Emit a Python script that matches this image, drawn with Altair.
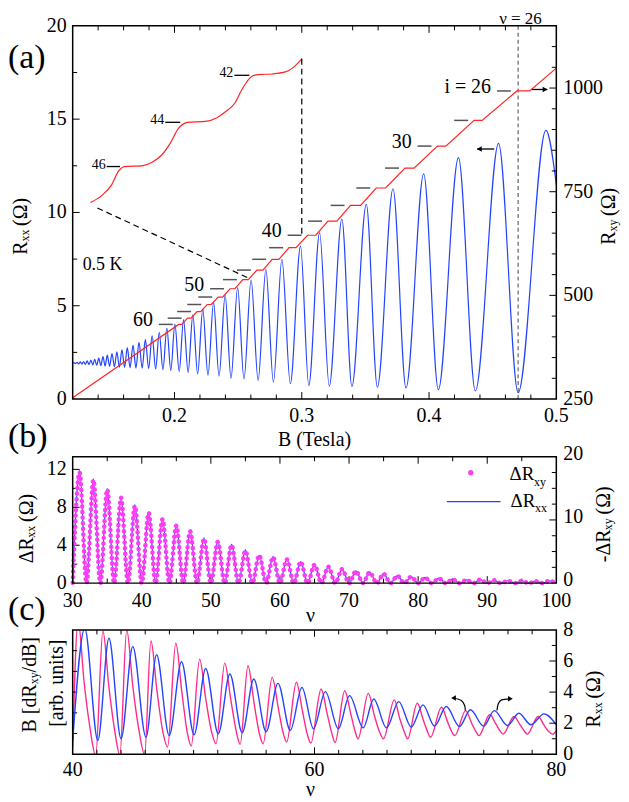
import altair as alt
import pandas as pd

FONT = "Liberation Serif"
BLUE = "#2443ff"
RED = "#ff2424"
MAG = "#ff3cf5"
PINK = "#ff2b88"
GRAY = "#555555"

# ---------------- Panel (a) data ----------------
a_rxx_B = [0.1200, 0.1210, 0.1222, 0.1234, 0.1247, 0.1260, 0.1273, 0.1286, 0.1300, 0.1314,
           0.1328, 0.1343, 0.1358, 0.1373, 0.1389, 0.1405, 0.1421, 0.1438, 0.1455, 0.1472,
           0.1490, 0.1509, 0.1528, 0.1547, 0.1567, 0.1587, 0.1608, 0.1629, 0.1651, 0.1674,
           0.1697, 0.1721, 0.1746, 0.1771, 0.1797, 0.1824, 0.1852, 0.1880, 0.1909, 0.1940,
           0.1971, 0.2003, 0.2037, 0.2071, 0.2107, 0.2144, 0.2182, 0.2222, 0.2263, 0.2307,
           0.2350, 0.2398, 0.2444, 0.2496, 0.2546, 0.2602, 0.2657, 0.2718, 0.2777, 0.2844,
           0.2910, 0.2990, 0.3055, 0.3140, 0.3216, 0.3315, 0.3394, 0.3507, 0.3594, 0.3717,
           0.3819, 0.3958, 0.4073, 0.4231, 0.4364, 0.4546, 0.4700, 0.4918, 0.5000]
a_rxx_R = [1.92, 1.95, 1.89, 1.97, 1.88, 1.99, 1.87, 2.01, 1.86, 2.04,
           1.85, 2.08, 1.83, 2.13, 1.81, 2.19, 1.79, 2.27, 1.77, 2.35,
           1.75, 2.44, 1.73, 2.53, 1.71, 2.63, 1.70, 2.75, 1.68, 2.89,
           1.66, 3.04, 1.65, 3.20, 1.63, 3.38, 1.61, 3.58, 1.58, 3.79,
           1.53, 4.02, 1.48, 4.26, 1.42, 4.50, 1.35, 4.82, 1.28, 5.18,
           1.23, 5.57, 1.12, 5.97, 1.08, 6.38, 1.00, 6.95, 0.91, 7.48,
           0.82, 8.19, 0.73, 8.90, 0.70, 9.65, 0.68, 10.44, 0.64, 11.27,
           0.59, 12.07, 0.50, 12.94, 0.43, 13.70, 0.34, 14.40, 11.50]

a_rxy_B = [0.1200, 0.2033, 0.2057, 0.2103, 0.2129, 0.2177, 0.2206, 0.2257, 0.2289,
           0.2343, 0.2378, 0.2436, 0.2475, 0.2537, 0.2580, 0.2647, 0.2695, 0.2767, 0.2820,
           0.2900, 0.2955, 0.3045, 0.3110, 0.3206, 0.3276, 0.3383, 0.3462, 0.3585, 0.3659,
           0.3811, 0.3882, 0.4066, 0.4132, 0.4354, 0.4417, 0.4690, 0.4790, 0.5000]
a_rxy_R = [253, 430, 430, 445, 445, 461, 461, 478, 478,
           496, 496, 516, 516, 538, 538, 561, 561, 587, 587,
           615, 615, 645, 645, 679, 679, 717, 717, 759, 759,
           807, 807, 860, 860, 922, 922, 993, 993, 1048]

a_plat_B = [0.4690, 0.4354, 0.4066, 0.3811, 0.3585, 0.3383, 0.3206, 0.3045, 0.2900,
            0.2767, 0.2647, 0.2537, 0.2436, 0.2343, 0.2257, 0.2177, 0.2103, 0.2033]
a_plat_R = [993, 922, 860, 807, 759, 717, 679, 645, 615, 587, 561, 538, 516, 496, 478, 461, 445, 430]
a_lab_txt = ["i = 26", "30", "40", "50", "60"]
a_lab_B = [0.4690, 0.4066, 0.3045, 0.2436, 0.2033]
a_lab_R = [993, 860, 645, 516, 430]

inset_B = [0.1341, 0.1428, 0.1506, 0.1559, 0.1606, 0.1743, 0.1821, 0.1900, 0.1966, 0.2031, 0.2105,
           0.2242, 0.2333, 0.2400, 0.2472, 0.2530, 0.2609, 0.2661, 0.2766, 0.2872, 0.2937, 0.3002]
inset_R = [10.54, 10.90, 11.48, 12.20, 12.46, 12.50, 12.68, 13.08, 13.70, 14.50, 14.83,
           14.88, 15.08, 15.40, 15.84, 16.59, 17.30, 17.39, 17.42, 17.53, 17.79, 18.24]
inset_dash_B1 = [0.1467, 0.1927, 0.2470]
inset_dash_B2 = [0.1572, 0.2045, 0.2588]
inset_dash_R = [12.46, 14.83, 17.35]
inset_lab = ["46", "44", "42"]

guide_x1 = [0.3000, 0.1394]
guide_y1 = [18.24, 10.24]
guide_x2 = [0.3000, 0.2575]
guide_y2 = [8.70, 6.50]

arrow_a_x1 = [0.4378, 0.4803]
arrow_a_x2 = [0.4512, 0.4929]
arrow_a_y = [13.40, 16.59]
arrow_a_head_x = [0.4395, 0.4912]
arrow_a_head_shape = ["triangle-left", "triangle-right"]

a_xlab_v = [0.2, 0.3, 0.4, 0.5]
a_xlab_t = ["0.2", "0.3", "0.4", "0.5"]
a_ylab_v = [0, 5, 10, 15, 20]
a_ylab_t = ["0", "5", "10", "15", "20"]
a_rlab_v = [250, 500, 750, 1000]
a_rlab_t = ["250", "500", "750", "1000"]

# ---------------- Panel (b) data ----------------
b_nu = [30, 31, 32, 33, 34, 35, 36, 37, 38, 39, 40, 41, 42, 43, 44, 45, 46, 47, 48, 49,
        50, 51, 52, 53, 54, 55, 56, 57, 58, 59, 60, 61, 62, 63, 64, 65, 66, 67, 68, 69,
        70, 71, 72, 73, 74, 75, 76, 77, 78, 79, 80, 81, 82, 83, 84, 85, 86, 87, 88, 89,
        90, 91, 92, 93, 94, 95, 96, 97, 98, 99, 100]
b_drxx = [0.05, 11.9, 0, 11.0, 0, 9.97, 0, 9.1, 0, 8.29, 0, 7.52, 0, 6.82, 0, 6.12, 0, 5.49, 0, 4.79,
          0, 4.44, 0, 4.09, 0, 3.5, 0, 2.97, 0, 2.8, 0, 2.55, 0, 2.27, 0, 1.98, 0, 1.75, 0, 1.5,
          0, 1.3, 0, 1.16, 0, 1.0, 0, 0.8, 0, 0.7, 0, 0.6, 0, 0.53, 0, 0.42, 0, 0.35, 0, 0.38,
          0, 0.3, 0, 0.25, 0, 0.25, 0, 0.22, 0, 0.25, 0]
b_drxy = [0.05, 17.5, 0, 16.3, 0, 14.8, 0, 13.5, 0, 12.2, 0, 11.1, 0, 10.1, 0, 9.1, 0, 8.2, 0, 7.0,
          0, 6.5, 0, 6.0, 0, 5.1, 0, 4.4, 0, 4.1, 0, 3.75, 0, 3.35, 0, 2.9, 0, 2.6, 0, 2.2,
          0, 1.9, 0, 1.7, 0, 1.45, 0, 1.15, 0, 1.0, 0, 0.85, 0, 0.75, 0, 0.6, 0, 0.5, 0, 0.55,
          0, 0.45, 0, 0.35, 0, 0.35, 0, 0.3, 0, 0.35, 0]
b_xlab_v = [30, 40, 50, 60, 70, 80, 90, 100]
b_xlab_t = ["30", "40", "50", "60", "70", "80", "90", "100"]
b_ylab_v = [0, 4, 8, 12]
b_ylab_t = ["0", "4", "8", "12"]
b_rlab_v = [0, 10, 20]
b_rlab_t = ["0", "10", "20"]

# ---------------- Panel (c) data ----------------
c_rxx_nu = [40.0, 41.0, 42.08, 43.0, 44.0, 44.97, 46.06, 46.94, 47.98, 49.0, 50.04, 51.0, 52.04,
            53.0, 54.02, 54.98, 56.0, 56.98, 58.0, 58.96, 59.92, 60.9, 61.97, 62.9, 64.03, 64.9,
            65.95, 66.97, 68.0, 68.97, 69.93, 70.9, 71.99, 72.9, 73.99, 74.87, 75.97, 76.9, 77.9,
            78.98, 80.0]
c_rxx_v = [0.85, 8.1, 0.9, 7.46, 1.0, 6.93, 1.1, 6.4, 1.2, 5.95, 1.26, 5.52, 1.32, 5.16, 1.39,
           4.84, 1.45, 4.56, 1.54, 4.3, 1.64, 4.03, 1.64, 3.77, 1.7, 3.56, 1.7, 3.39, 1.75, 3.18,
           1.81, 3.07, 1.79, 2.86, 1.81, 2.81, 1.85, 2.64, 1.9, 2.6, 1.9]
c_der_nu = [40.0,
            40.45, 40.95, 41.45, 41.9, 42.5, 43.0, 43.5, 43.9, 44.47, 44.97, 45.47, 45.95,
            46.47, 46.97, 47.47, 47.85, 48.53, 49.03, 49.5, 49.8, 50.5, 51.0, 51.5, 51.85,
            52.58, 53.08, 53.55, 53.85, 54.5, 55.0, 55.45, 55.75, 56.5, 57.0, 57.4, 57.7,
            58.5, 59.0, 59.4, 59.7, 60.55, 61.05, 61.45, 61.7, 62.5, 63.0, 63.35, 63.6,
            64.45, 64.95, 65.35, 65.7, 66.6, 67.05, 67.45, 67.7, 68.5, 69.0, 69.35, 69.6,
            70.5, 71.0, 71.35, 71.6, 72.5, 73.0, 73.35, 73.6, 74.5, 75.0, 75.35, 75.6,
            76.5, 77.0, 77.35, 77.6, 78.5, 79.0, 79.4, 79.7,
            80.0]
c_der_v = [0.5,
           8.6, 4.6, 1.6, -0.1, 7.93, 4.3, 1.4, -0.05, 8.0, 4.4, 1.6, 0.0,
           7.3, 4.1, 1.4, 0.47, 7.14, 4.0, 1.3, 0.53, 6.12, 3.6, 1.4, 0.68,
           5.86, 3.5, 1.4, 0.64, 5.69, 3.3, 1.3, 0.68, 4.95, 3.0, 1.4, 0.79,
           4.63, 2.8, 1.3, 0.72, 4.2, 2.6, 1.3, 0.75, 4.09, 2.6, 1.5, 1.0,
           3.92, 2.5, 1.5, 1.0, 3.5, 2.3, 1.4, 1.0, 3.28, 2.2, 1.45, 1.1,
           3.03, 2.1, 1.45, 1.2, 2.81, 2.0, 1.45, 1.2, 2.56, 1.95, 1.5, 1.3,
           2.43, 1.9, 1.5, 1.3, 2.43, 1.85, 1.45, 1.3,
           1.5]
arrow_c1_nu = [72.47, 72.42, 72.14, 71.50]
arrow_c1_v = [2.82, 3.14, 3.46, 3.62]
arrow_c2_nu = [75.09, 75.20, 75.47, 76.20]
arrow_c2_v = [2.82, 3.25, 3.50, 3.57]
c_xlab_v = [40, 60, 80]
c_xlab_t = ["40", "60", "80"]
c_rlab_v = [0, 2, 4, 6, 8]
c_rlab_t = ["0", "2", "4", "6", "8"]

# ---------------- helpers ----------------
DUMMY = pd.DataFrame({"d": [0]})


def txt(s, x, y, size=20, angle=0, align="left", baseline="alphabetic", color="black"):
    return alt.Chart(DUMMY).mark_text(
        text=s, font=FONT, fontSize=size, angle=angle, align=align,
        baseline=baseline, color=color
    ).encode(x=alt.value(x), y=alt.value(y))


def frame(W, H):
    return alt.Chart(DUMMY).mark_rect(fillOpacity=0, stroke="black", strokeWidth=1.5).encode(
        x=alt.value(0), x2=alt.value(W), y=alt.value(0), y2=alt.value(H))


def xticks(vals, scale, H, L):
    base = alt.Chart(pd.DataFrame({"v": vals})).mark_rule(color="black", strokeWidth=1)
    return [
        base.encode(x=alt.X("v:Q", scale=scale, axis=None), y=alt.value(H), y2=alt.value(H - L)),
        base.encode(x=alt.X("v:Q", scale=scale, axis=None), y=alt.value(0), y2=alt.value(L)),
    ]


def yticks(vals, scale, W, L, side):
    base = alt.Chart(pd.DataFrame({"v": vals})).mark_rule(color="black", strokeWidth=1)
    if side == "left":
        return [base.encode(y=alt.Y("v:Q", scale=scale, axis=None), x=alt.value(0), x2=alt.value(L))]
    return [base.encode(y=alt.Y("v:Q", scale=scale, axis=None), x=alt.value(W), x2=alt.value(W - L))]


def xlabels(vals, labels, scale, y):
    return alt.Chart(pd.DataFrame({"v": vals, "t": labels})).mark_text(
        font=FONT, fontSize=20, align="center", baseline="alphabetic", color="black").encode(
        x=alt.X("v:Q", scale=scale, axis=None), y=alt.value(y), text="t:N")


def ylabels(vals, labels, scale, x, align, dy=0):
    return alt.Chart(pd.DataFrame({"v": vals, "t": labels})).mark_text(
        font=FONT, fontSize=20, align=align, baseline="middle", color="black", dy=dy).encode(
        y=alt.Y("v:Q", scale=scale, axis=None), x=alt.value(x), text="t:N")


MAJ, MIN = 7, 4.5
W = 486

# ================= Panel (a) =================
HA = 375
xs_a = alt.Scale(domain=[0.12, 0.5], nice=False, zero=False)
yl_a = alt.Scale(domain=[0, 20], range=[HA, 0], nice=False, zero=False)
yr_a = alt.Scale(domain=[250, 1150], range=[HA, 0], nice=False, zero=False)

a_blue = alt.Chart(pd.DataFrame({"B": a_rxx_B, "R": a_rxx_R})).mark_line(
    color=BLUE, strokeWidth=1.2, interpolate="monotone").encode(
    x=alt.X("B:Q", scale=xs_a, axis=None), y=alt.Y("R:Q", scale=yl_a, axis=None))

a_inset = alt.Chart(pd.DataFrame({"B": inset_B, "R": inset_R})).mark_line(
    color=RED, strokeWidth=1.2, interpolate="monotone").encode(
    x=alt.X("B:Q", scale=xs_a, axis=None), y=alt.Y("R:Q", scale=yl_a, axis=None))

inset_df = pd.DataFrame({"b1": inset_dash_B1, "b2": inset_dash_B2, "r": inset_dash_R, "t": inset_lab})
a_inset_dash = alt.Chart(inset_df).mark_rule(color="black", strokeWidth=1.3).encode(
    x=alt.X("b1:Q", scale=xs_a, axis=None), x2="b2:Q", y=alt.Y("r:Q", scale=yl_a, axis=None))
a_inset_lab = alt.Chart(inset_df).mark_text(
    font=FONT, fontSize=14, align="right", baseline="alphabetic", dx=-1, dy=2, color="black").encode(
    x=alt.X("b1:Q", scale=xs_a, axis=None), y=alt.Y("r:Q", scale=yl_a, axis=None), text="t:N")

a_guides = alt.Chart(pd.DataFrame({"x1": guide_x1, "y1": guide_y1, "x2": guide_x2, "y2": guide_y2})).mark_rule(
    color="black", strokeWidth=1.2, strokeDash=[6, 4]).encode(
    x=alt.X("x1:Q", scale=xs_a, axis=None), x2="x2:Q",
    y=alt.Y("y1:Q", scale=yl_a, axis=None), y2="y2:Q")

a_nu26 = alt.Chart(pd.DataFrame({"B": [0.47]})).mark_rule(
    color="#666666", strokeWidth=1.2, strokeDash=[4, 3]).encode(
    x=alt.X("B:Q", scale=xs_a, axis=None), y=alt.value(0), y2=alt.value(HA))

arr_df = pd.DataFrame({"x1": arrow_a_x1, "x2": arrow_a_x2, "y": arrow_a_y,
                       "hx": arrow_a_head_x, "s": arrow_a_head_shape})
a_arrow_line = alt.Chart(arr_df).mark_rule(color="black", strokeWidth=1.3).encode(
    x=alt.X("x1:Q", scale=xs_a, axis=None), x2="x2:Q", y=alt.Y("y:Q", scale=yl_a, axis=None))
a_arrow_head = alt.Chart(arr_df).mark_point(filled=True, size=32, color="black", opacity=1).encode(
    x=alt.X("hx:Q", scale=xs_a, axis=None), y=alt.Y("y:Q", scale=yl_a, axis=None),
    shape=alt.Shape("s:N", scale=None))

a_left = alt.layer(
    a_blue, a_inset, a_inset_dash, a_inset_lab, a_guides, a_nu26, a_arrow_line, a_arrow_head,
    *xticks([0.2, 0.3, 0.4], xs_a, HA, MAJ),
    *xticks([0.14, 0.16, 0.18, 0.22, 0.24, 0.26, 0.28, 0.32, 0.34, 0.36, 0.38,
             0.42, 0.44, 0.46, 0.48], xs_a, HA, MIN),
    *yticks([5, 10, 15], yl_a, W, MAJ, "left"),
    *yticks([2.5, 7.5, 12.5, 17.5], yl_a, W, MIN, "left"),
    xlabels(a_xlab_v, a_xlab_t, xs_a, HA + 23),
    ylabels(a_ylab_v, a_ylab_t, yl_a, -6, "right"),
    txt("(a)", -65, 42.5, 34),
    txt("R", -46, 230, 20, 270), txt("xx", -44, 216.7, 12, 270), txt("(Ω)", -46, 201, 20, 270),
    txt("R", 545, 220, 20, 270), txt("xy", 547, 206.7, 12, 270), txt("(Ω)", 545, 191, 20, 270),
    txt("B (Tesla)", 243, 422, 20, align="center"),
    txt("0.5 K", 10, 245, 18),
    txt("ν = 26", 450, -2, 17, align="center"),
)

a_red = alt.Chart(pd.DataFrame({"B": a_rxy_B, "R": a_rxy_R})).mark_line(
    color=RED, strokeWidth=1.2).encode(
    x=alt.X("B:Q", scale=xs_a, axis=None), y=alt.Y("R:Q", scale=yr_a, axis=None))
a_dash = alt.Chart(pd.DataFrame({"B": a_plat_B, "R": a_plat_R})).mark_rule(
    color=GRAY, strokeWidth=1.5, xOffset=-20, x2Offset=-6).encode(
    x=alt.X("B:Q", scale=xs_a, axis=None), x2="B:Q", y=alt.Y("R:Q", scale=yr_a, axis=None))
a_lab = alt.Chart(pd.DataFrame({"B": a_lab_B, "R": a_lab_R, "t": a_lab_txt})).mark_text(
    font=FONT, fontSize=20, align="right", baseline="alphabetic", dx=-26, dy=2, color="black").encode(
    x=alt.X("B:Q", scale=xs_a, axis=None), y=alt.Y("R:Q", scale=yr_a, axis=None), text="t:N")

a_right = alt.layer(
    a_red, a_dash, a_lab,
    *yticks([500, 750, 1000], yr_a, W, MAJ, "right"),
    *yticks([300, 350, 400, 450, 550, 600, 650, 700, 800, 850, 900, 950, 1050, 1100], yr_a, W, MIN, "right"),
    ylabels(a_rlab_v, a_rlab_t, yr_a, W + 7, "left"),
    frame(W, HA),
)

panel_a = alt.layer(a_left, a_right).resolve_scale(y="independent").properties(width=W, height=386)

# ================= Panel (b) =================
HB = 127
xs_b = alt.Scale(domain=[30, 100], nice=False, zero=False)
yl_b = alt.Scale(domain=[0, 13.333], nice=False, zero=False)
yr_b = alt.Scale(domain=[0, 20], nice=False, zero=False)

b_df = pd.DataFrame({"nu": b_nu, "xx": b_drxx, "xy": b_drxy})
b_blue = alt.Chart(b_df).mark_line(color=BLUE, strokeWidth=1.2, interpolate="monotone").encode(
    x=alt.X("nu:Q", scale=xs_b, axis=None), y=alt.Y("xx:Q", scale=yl_b, axis=None))

b_left = alt.layer(
    b_blue,
    *xticks([40, 50, 60, 70, 80, 90], xs_b, HB, MAJ),
    *xticks([35, 45, 55, 65, 75, 85, 95], xs_b, HB, MIN),
    *yticks([4, 8, 12], yl_b, W, MAJ, "left"),
    *yticks([2, 6, 10], yl_b, W, MIN, "left"),
    xlabels(b_xlab_v, b_xlab_t, xs_b, HB + 24),
    ylabels(b_ylab_v, b_ylab_t, yl_b, -6, "right"),
    txt("(b)", -65, -9.5, 34),
    txt("ΔR", -40, 107, 20, 270), txt("xx", -38, 81.4, 12, 270), txt("(Ω)", -40, 65.5, 20, 270),
    txt("-ΔR", 540, 106, 20, 270), txt("xy", 542, 73.8, 12, 270), txt("(Ω)", 540, 58, 20, 270),
    txt("ν", 239, 166, 20, align="center"),
    alt.Chart(DUMMY).mark_point(filled=True, size=28, color=MAG, opacity=1).encode(
        x=alt.value(400), y=alt.value(16)),
    alt.Chart(DUMMY).mark_rule(color=BLUE, strokeWidth=1.3).encode(
        x=alt.value(376), x2=alt.value(430), y=alt.value(45)),
    txt("ΔR", 439, 23, 19), txt("xy", 463.5, 29, 12),
    txt("ΔR", 440, 50, 19), txt("xx", 464.5, 56, 12),
)

b_mag = alt.Chart(b_df).mark_line(
    color=MAG, strokeWidth=4.5, strokeDash=[0.1, 5.5], strokeCap="round", interpolate="monotone").encode(
    x=alt.X("nu:Q", scale=xs_b, axis=None), y=alt.Y("xy:Q", scale=yr_b, axis=None))

b_right = alt.layer(
    b_mag,
    *yticks([10], yr_b, W, MAJ, "right"),
    *yticks([2.5, 5, 7.5, 12.5, 15, 17.5], yr_b, W, MIN, "right"),
    ylabels(b_rlab_v, b_rlab_t, yr_b, W + 7, "left", dy=-3),
    frame(W, HB),
)

panel_b = alt.layer(b_left, b_right).resolve_scale(y="independent").properties(width=W, height=HB)

# ================= Panel (c) =================
HC = 125
xs_c = alt.Scale(domain=[40, 80], nice=False, zero=False)
yl_c = alt.Scale(domain=[0, 8], nice=False, zero=False)
yr_c = alt.Scale(domain=[0, 8], nice=False, zero=False)

c_pink = alt.Chart(pd.DataFrame({"nu": c_der_nu, "v": c_der_v})).mark_line(
    color=PINK, strokeWidth=1.4, interpolate="monotone", clip=True).encode(
    x=alt.X("nu:Q", scale=xs_c, axis=None), y=alt.Y("v:Q", scale=yl_c, axis=None))

c_left = alt.layer(
    c_pink,
    *xticks([60], xs_c, HC, MAJ),
    *xticks([42, 44, 46, 48, 50, 52, 54, 56, 58, 62, 64, 66, 68, 70, 72, 74, 76, 78], xs_c, HC, MIN),
    *yticks([1.3333, 2.6667, 4, 5.3333, 6.6667], yl_c, W, MIN, "left"),
    xlabels(c_xlab_v, c_xlab_t, xs_c, HC + 22),
    txt("(c)", -65, -9.5, 34),
    txt("B [dR", -37, 103, 20, 270), txt("xy", -35, 54.7, 12, 270), txt("/dB]", -37, 42.7, 20, 270),
    txt("[arb. units]", -10, 53.5, 20, 270, align="center"),
    txt("R", 530, 98, 20, 270), txt("xx", 532, 84.7, 12, 270), txt("(Ω)", 530, 69, 20, 270),
    txt("ν", 239, 167, 20, align="center"),
)

c_blue = alt.Chart(pd.DataFrame({"nu": c_rxx_nu, "v": c_rxx_v})).mark_line(
    color=BLUE, strokeWidth=1.4, interpolate="monotone", clip=True).encode(
    x=alt.X("nu:Q", scale=xs_c, axis=None), y=alt.Y("v:Q", scale=yr_c, axis=None))

arr1 = pd.DataFrame({"nu": arrow_c1_nu, "v": arrow_c1_v, "i": [0, 1, 2, 3]})
arr2 = pd.DataFrame({"nu": arrow_c2_nu, "v": arrow_c2_v, "i": [0, 1, 2, 3]})


def curved_arrow(df, shape):
    line = alt.Chart(df).mark_line(color="black", strokeWidth=1.2, interpolate="cardinal").encode(
        x=alt.X("nu:Q", scale=xs_c, axis=None), y=alt.Y("v:Q", scale=yr_c, axis=None),
        order="i:Q")
    head = alt.Chart(df.tail(1)).mark_point(filled=True, size=30, color="black", opacity=1,
                                             shape=shape).encode(
        x=alt.X("nu:Q", scale=xs_c, axis=None), y=alt.Y("v:Q", scale=yr_c, axis=None))
    return [line, head]


c_right = alt.layer(
    c_blue,
    *curved_arrow(arr1, "triangle-left"),
    *curved_arrow(arr2, "triangle-right"),
    *yticks([2, 4, 6], yr_c, W, MAJ, "right"),
    *yticks([1, 3, 5, 7], yr_c, W, MIN, "right"),
    ylabels(c_rlab_v, c_rlab_t, yr_c, W + 7, "left"),
    frame(W, HC),
)

panel_c = alt.layer(c_left, c_right).resolve_scale(y="independent").properties(width=W, height=HC)

chart = alt.vconcat(panel_a, panel_b, panel_c, spacing=47, bounds="flush").properties(
    padding={"left": 0, "top": 0, "right": 2, "bottom": 0}
).configure_view(strokeWidth=0)

chart.save("out.html", embed_options={"renderer": "svg", "actions": False})
